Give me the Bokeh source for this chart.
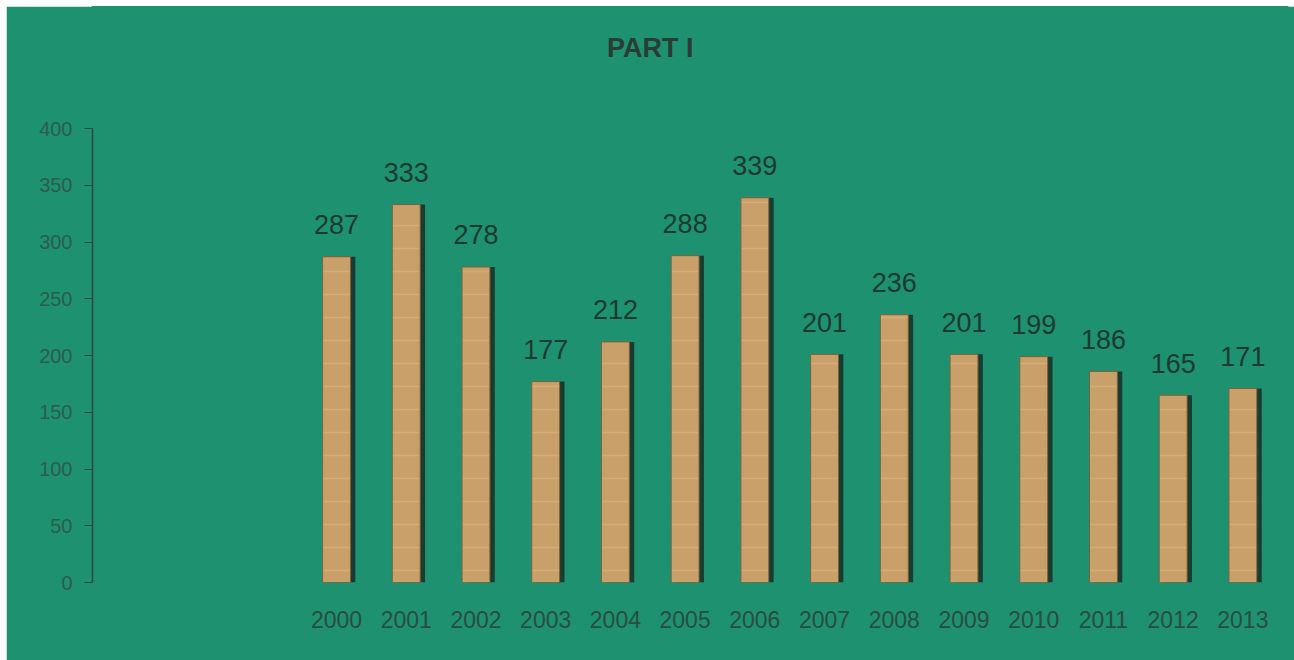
from bokeh.plotting import figure
from bokeh.models import ColumnDataSource, FixedTicker, Range1d, Label
from bokeh.transform import dodge
from bokeh.core.properties import value
from bokeh.embed import file_html
from bokeh.resources import INLINE

years = ["2000", "2001", "2002", "2003", "2004", "2005", "2006",
         "2007", "2008", "2009", "2010", "2011", "2012", "2013"]
values = [287, 333, 278, 177, 212, 288, 339, 201, 236, 201, 199, 186, 165, 171]
y_ticks = [0, 50, 100, 150, 200, 250, 300, 350, 400]
title_text = "PART I"

BG = "#1e9171"
BAR = "#c9a06a"
DARK = "#1d3a30"

idx = list(range(len(years)))
src = ColumnDataSource(dict(x=idx, top=values, label=[str(v) for v in values]))

# the frame reaches the top of the canvas so the title can sit inside it;
# the y axis itself is bounded to 0..400
p = figure(width=1288, height=654, output_backend="svg", toolbar_location=None,
           x_range=Range1d(-3.5, 13.64), y_range=Range1d(0, 507.5),
           min_border_left=86, min_border_right=7, min_border_top=0,
           min_border_bottom=78)
p.margin = (6, 0, 0, 6)
p.background_fill_color = BG
p.border_fill_color = BG
p.outline_line_color = BG
p.outline_line_width = 2
p.xgrid.grid_line_color = None
p.ygrid.grid_line_color = None

p.add_layout(Label(x=4.5, y=471, text=title_text, text_align="center",
                   text_baseline="middle", text_font="Liberation Sans",
                   text_font_size="27px", text_font_style="bold",
                   text_color="#2a3d35"))

# shadow behind bars
p.vbar(x=dodge("x", 0.07, range=p.x_range), top="top", width=0.40, bottom=0,
       source=src, fill_color="#16332a", line_color=None, fill_alpha=0.9)
p.vbar(x="x", top="top", width=0.40, bottom=0, source=src,
       fill_color=BAR, line_color="#7e6038", line_width=1,
       hatch_pattern="horizontal_line", hatch_color="#ead2a0",
       hatch_alpha=0.25, hatch_scale=23, hatch_weight=1.5)

p.text(x="x", y="top", text="label", source=src, text_align="center",
       text_baseline="alphabetic", y_offset=-32, text_font_size="27px",
       text_color=DARK, text_font=value("Liberation Sans"))

# y axis
p.yaxis.ticker = FixedTicker(ticks=y_ticks)
p.yaxis.bounds = (0, 400)
p.yaxis.axis_line_color = "#2a4a3e"
p.yaxis.axis_line_width = 1.5
p.yaxis.major_tick_line_color = "#2a4a3e"
p.yaxis.major_tick_out = 8
p.yaxis.major_tick_in = 0
p.yaxis.minor_tick_line_color = None
p.yaxis.major_label_standoff = 12
p.yaxis.major_label_text_font = "Liberation Sans"
p.yaxis.major_label_text_font_size = "20px"
p.yaxis.major_label_text_color = "#2c5d4c"

# x axis
p.xaxis.ticker = FixedTicker(ticks=idx)
p.xaxis.major_label_overrides = {i: y for i, y in zip(idx, years)}
p.xaxis.axis_line_color = None
p.xaxis.major_tick_line_color = None
p.xaxis.minor_tick_line_color = None
p.xaxis.major_label_standoff = 22
p.xaxis.major_label_text_font = "Liberation Sans"
p.xaxis.major_label_text_font_size = "23px"
p.xaxis.major_label_text_color = "#2a4d40"

open("out.html", "w").write(file_html(p, INLINE))
